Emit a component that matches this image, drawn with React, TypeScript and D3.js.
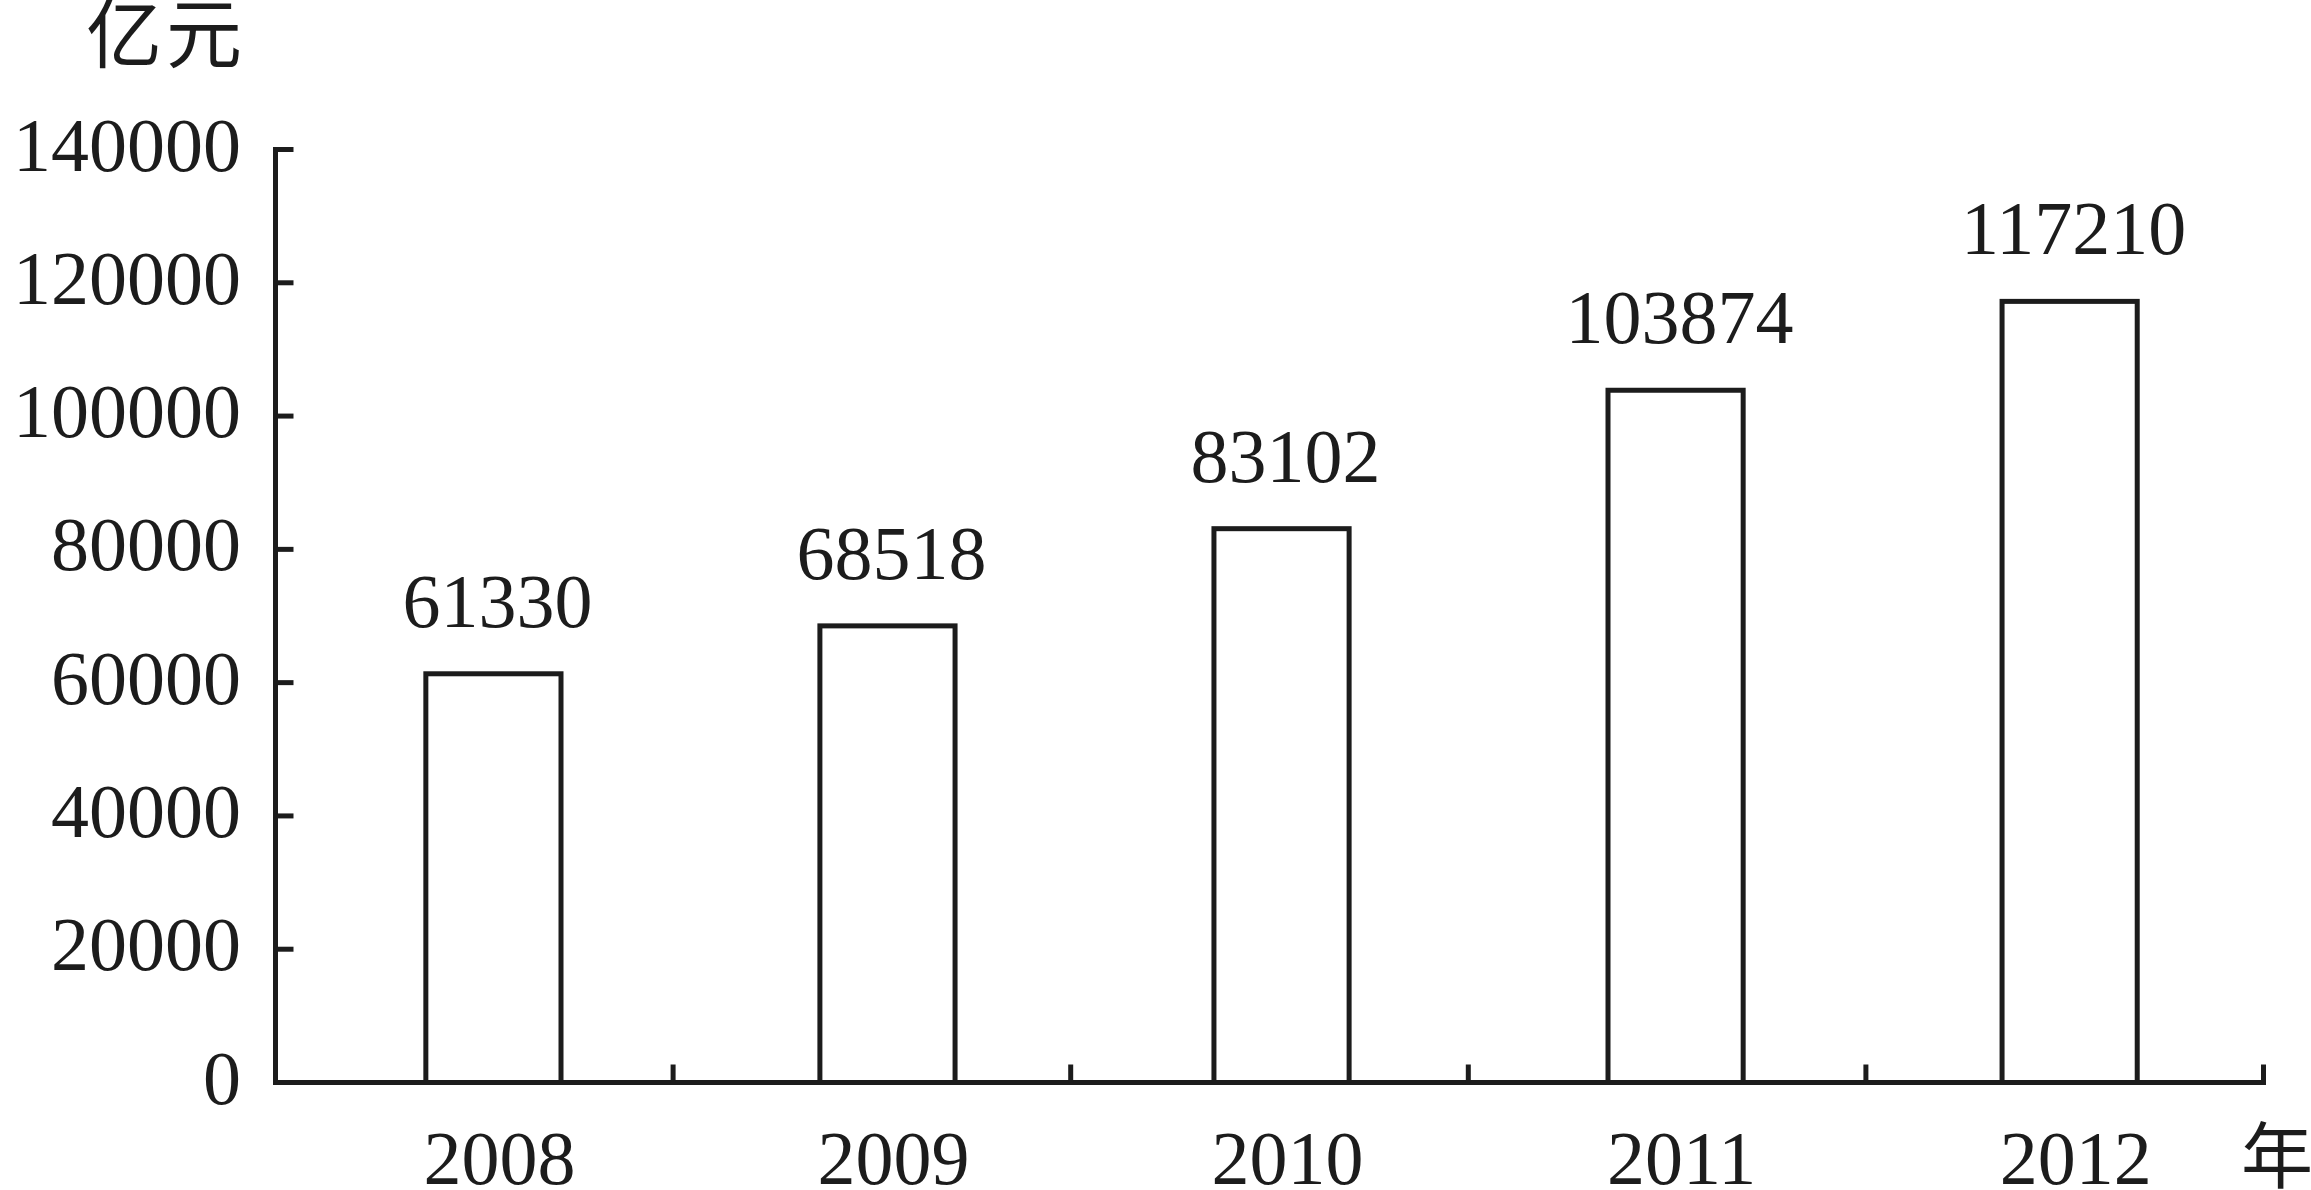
import React from "react";
import * as d3 from "d3";

const years = ["2008", "2009", "2010", "2011", "2012"];
const values = [61330, 68518, 83102, 103874, 117210];
const yTicks = [0, 20000, 40000, 60000, 80000, 100000, 120000, 140000];
const yUnit = "亿元";
const xUnit = "年";

const W = 2311;
const H = 1190;
const INK = "#1c1c1c";
const SERIF = "'Liberation Serif', 'Times New Roman', serif";
const CJK = "'Noto Sans CJK SC', sans-serif";

export default function App() {
  const left = 275.5;
  const right = 2263.5;
  const bottom = 1082.5;
  const top = 149.5;

  const y = d3.scaleLinear().domain([0, 140000]).range([bottom, top]);
  // category slots (for the tick marks between categories)
  const slots = d3.scaleBand<string>().domain(years).range([left, right]);
  // bars
  const x = d3
    .scaleBand<string>()
    .domain(years)
    .range([left, right])
    .paddingInner(0.657)
    .paddingOuter(0.351)
    .align(0.5435);
  const bw = x.bandwidth();

  return (
    <svg
      width={W}
      height={H}
      style={{ position: "absolute", left: 0, top: 0, background: "#fff" }}
    >
      <rect x={0} y={0} width={W} height={H} fill="#fff" />
      {/* y unit */}
      <text x={86} y={62} fontFamily={CJK} fontSize={76} letterSpacing={4} fill={INK}>
        {yUnit}
      </text>

      {/* y axis */}
      <line x1={left} x2={left} y1={top - 2.5} y2={bottom + 2.5} stroke={INK} strokeWidth={5} />
      {yTicks.map((t) => (
        <g key={t}>
          {t > 0 && (
            <line x1={left} x2={left + 18} y1={y(t)} y2={y(t)} stroke={INK} strokeWidth={5} />
          )}
          <text
            x={241}
            y={y(t) + 21}
            textAnchor="end"
            fontFamily={SERIF}
            fontSize={76}
            fill={INK}
          >
            {t}
          </text>
        </g>
      ))}

      {/* bars */}
      {years.map((yr, i) => (
        <g key={yr}>
          <rect
            x={x(yr)}
            y={y(values[i])}
            width={bw}
            height={bottom - y(values[i])}
            fill="#fff"
            stroke={INK}
            strokeWidth={5}
          />
          <text
            x={(x(yr) as number) + bw / 2 + 4}
            y={y(values[i]) - 47}
            textAnchor="middle"
            fontFamily={SERIF}
            fontSize={76}
            fill={INK}
          >
            {values[i]}
          </text>
          <text
            x={(x(yr) as number) + bw / 2 + 6}
            y={1184}
            textAnchor="middle"
            fontFamily={SERIF}
            fontSize={76}
            fill={INK}
          >
            {yr}
          </text>
        </g>
      ))}

      {/* x axis */}
      <line x1={left - 2.5} x2={right + 2.5} y1={bottom} y2={bottom} stroke={INK} strokeWidth={5} />
      {years.map((yr) => {
        const tx = (slots(yr) as number) + slots.bandwidth();
        return (
          <line
            key={"t" + yr}
            x1={tx}
            x2={tx}
            y1={bottom}
            y2={bottom - 18}
            stroke={INK}
            strokeWidth={5}
          />
        );
      })}
      <text x={2277} y={1182} textAnchor="middle" fontFamily={CJK} fontSize={72} fill={INK}>
        {xUnit}
      </text>
    </svg>
  );
}
